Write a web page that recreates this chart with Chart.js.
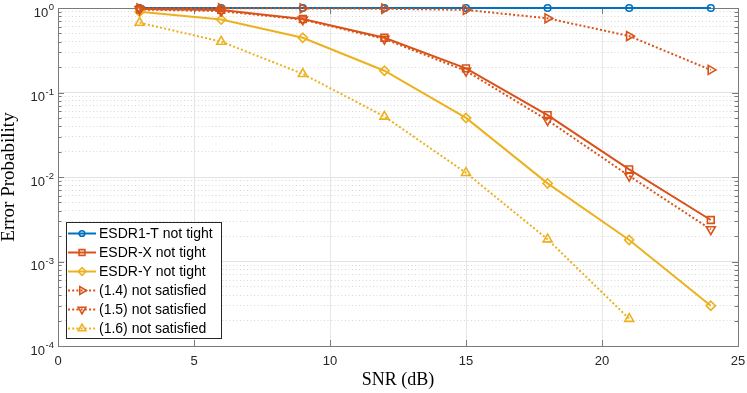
<!DOCTYPE html>
<html>
<head>
<meta charset="utf-8">
<script src="https://cdn.jsdelivr.net/npm/chart.js@4.4.0/dist/chart.umd.min.js"></script>
<style>
html, body { margin: 0; padding: 0; background: #fff; }
#wrap { width: 747px; height: 393px; }
</style>
</head>
<body>
<div id="wrap"><canvas id="errChart" width="747" height="393"></canvas></div>
<script>
// SNR points (dB)
var snr = [3, 6, 9, 12, 15, 18, 21, 24];

// error probabilities
var esdr1T = [1, 1, 1, 1, 1, 1, 1, 1];
var esdrX = [0.97, 0.95, 0.74, 0.445, 0.193, 0.054, 0.0123, 0.0031];
var esdrY = [0.90, 0.73, 0.445, 0.181, 0.050, 0.0084, 0.0018, 0.00030];
var cond14 = [0.99, 0.99, 0.99, 0.98, 0.95, 0.755, 0.466, 0.185];
var cond15 = [0.96, 0.92, 0.73, 0.43, 0.18, 0.047, 0.0103, 0.0024];
var cond16 = [0.67, 0.40, 0.166, 0.052, 0.0112, 0.00183, 0.00021, null];

var seriesNames = ['ESDR1-T not tight', 'ESDR-X not tight', 'ESDR-Y not tight',
    '(1.4) not satisfied', '(1.5) not satisfied', '(1.6) not satisfied'];

// axis ticks
var xTicks = [0, 5, 10, 15, 20, 25];
var yMajorTicks = [1e-4, 1e-3, 1e-2, 1e-1, 1];
var yTickBase = '10';
var yTickExps = ['-4', '-3', '-2', '-1', '0'];

var blue = '#0072BD';
var orange = '#D95319';
var yellow = '#EDB120';

var yGridValues = [];
for (let i = 0; i < yMajorTicks.length - 1; i++) {
    for (let m = 1; m <= 9; m++) {
        yGridValues.push(yMajorTicks[i] * m);
    }
}
yGridValues.push(yMajorTicks[yMajorTicks.length - 1]);

function pts(ys) {
    return snr.map((x, i) => ({ x: x, y: ys[i] }));
}

function makeSet(i, ys, color, style, rot, radius, dotted) {
    return {
        label: seriesNames[i],
        data: pts(ys),
        borderColor: color,
        backgroundColor: color,
        borderWidth: 2,
        borderDash: dotted ? [2, 2.2] : [],
        pointStyle: style,
        pointRotation: rot,
        pointRadius: radius,
        pointHoverRadius: radius,
        pointBorderColor: color,
        pointBackgroundColor: 'rgba(0,0,0,0)',
        pointBorderWidth: 1.6,
        tension: 0,
        clip: false,
        order: 6 - i,
        spanGaps: false
    };
}

var datasets = [
    makeSet(0, esdr1T, blue, 'circle', 0, 3.3, false),
    makeSet(1, esdrX, orange, 'rect', 0, 4.8, false),
    makeSet(2, esdrY, yellow, 'rectRot', 0, 4.6, false),
    makeSet(3, cond14, orange, 'triangle', 90, 5.2, true),
    makeSet(4, cond15, orange, 'triangle', 180, 5.2, true),
    makeSet(5, cond16, yellow, 'triangle', 0, 5.2, true)
];

var axisColor = '#262626';

var boxPlugin = {
    id: 'boxPlugin',
    beforeDatasetsDraw(chart) {
        const ctx = chart.ctx;
        const a = chart.chartArea;
        const xs = chart.scales.x;
        const ys = chart.scales.y;
        ctx.save();
        ctx.strokeStyle = '#7a7a7a';
        ctx.lineWidth = 1;
        ctx.setLineDash([]);
        ctx.beginPath();
        // inner tick marks, x
        xTicks.forEach(v => {
            const px = Math.round(xs.getPixelForValue(v)) + 0.5;
            ctx.moveTo(px, a.bottom);
            ctx.lineTo(px, a.bottom - 6);
            ctx.moveTo(px, a.top);
            ctx.lineTo(px, a.top + 6);
        });
        // inner tick marks, y
        yGridValues.forEach(v => {
            const py = Math.round(ys.getPixelForValue(v)) + 0.5;
            const len = yMajorTicks.includes(v) ? 6 : 3.5;
            ctx.moveTo(a.left, py);
            ctx.lineTo(a.left + len, py);
            ctx.moveTo(a.right, py);
            ctx.lineTo(a.right - len, py);
        });
        ctx.stroke();
        ctx.strokeRect(Math.round(a.left) + 0.5, Math.round(a.top) + 0.5,
            Math.round(a.right - a.left), Math.round(a.bottom - a.top));
        ctx.restore();
    },
    afterDraw(chart) {
        const ctx = chart.ctx;
        const ys = chart.scales.y;
        const a = chart.chartArea;
        ctx.save();
        // y tick labels with superscript exponents
        ctx.fillStyle = axisColor;
        ctx.textBaseline = 'middle';
        ctx.textAlign = 'left';
        yMajorTicks.forEach((v, i) => {
            const py = ys.getPixelForValue(v);
            ctx.font = '9.5px "Liberation Sans", Arial, sans-serif';
            const wExp = ctx.measureText(yTickExps[i]).width;
            ctx.font = '13px "Liberation Sans", Arial, sans-serif';
            const wBase = ctx.measureText(yTickBase).width;
            const right = a.left - 4;
            ctx.fillText(yTickBase, right - wExp - wBase - 0.5, py + 5);
            ctx.font = '9.5px "Liberation Sans", Arial, sans-serif';
            ctx.fillText(yTickExps[i], right - wExp, py - 0.5);
        });

        // legend box
        const x0 = 66, y0 = 222, w = 155, h = 116;
        ctx.fillStyle = '#fff';
        ctx.fillRect(x0, y0, w, h);
        ctx.strokeStyle = axisColor;
        ctx.lineWidth = 1;
        ctx.strokeRect(x0 + 0.5, y0 + 0.5, w, h);
        chart.data.datasets.forEach((ds, i) => {
            const cy = y0 + 11.5 + i * 19;
            ctx.strokeStyle = ds.borderColor;
            ctx.lineWidth = ds.borderWidth;
            ctx.setLineDash(ds.borderDash);
            ctx.beginPath();
            ctx.moveTo(68, cy);
            ctx.lineTo(96, cy);
            ctx.stroke();
            ctx.setLineDash([]);
            ctx.fillStyle = 'rgba(0,0,0,0)';
            ctx.strokeStyle = ds.pointBorderColor;
            ctx.lineWidth = ds.pointBorderWidth;
            Chart.helpers.drawPoint(ctx, {
                pointStyle: ds.pointStyle,
                rotation: ds.pointRotation,
                radius: ds.pointRadius * 0.85,
                borderWidth: ds.pointBorderWidth
            }, 82, cy);
            ctx.fillStyle = '#000';
            ctx.font = '14px "Liberation Sans", Arial, sans-serif';
            ctx.textAlign = 'left';
            ctx.textBaseline = 'middle';
            ctx.fillText(ds.label, 99, cy + 0.5);
        });
        ctx.restore();
    }
};

var ctx1 = document.getElementById('errChart').getContext('2d');
var errChart = new Chart(ctx1, {
    type: 'line',
    data: { datasets: datasets },
    options: {
        responsive: false,
        animation: false,
        devicePixelRatio: 1,
        layout: { padding: { top: 8, right: 9, left: 0, bottom: 0 } },
        plugins: {
            legend: { display: false },
            tooltip: { enabled: false }
        },
        scales: {
            x: {
                type: 'linear',
                min: 0,
                max: 25,
                afterBuildTicks: (axis) => {
                    axis.ticks = xTicks.map(v => ({ value: v }));
                },
                afterFit: (axis) => {
                    axis.height = 47;
                    axis.paddingLeft = 0;
                    axis.paddingRight = 0;
                },
                ticks: {
                    color: axisColor,
                    padding: 8,
                    maxRotation: 0,
                    font: { family: '"Liberation Sans", Arial, sans-serif', size: 13 }
                },
                grid: { color: '#e6e6e6', lineWidth: 1, drawTicks: false },
                border: { display: false },
                title: {
                    display: true,
                    text: 'SNR (dB)',
                    color: '#000',
                    font: { family: '"Liberation Serif", "Times New Roman", serif', size: 18, lineHeight: 1.2 },
                    padding: { top: 0, bottom: 2 }
                }
            },
            y: {
                type: 'logarithmic',
                min: 1e-4,
                max: 1,
                afterBuildTicks: (axis) => {
                    axis.ticks = yGridValues.map(v => ({ value: v, major: yMajorTicks.includes(v) }));
                },
                afterFit: (axis) => {
                    axis.width = 58;
                    axis.paddingTop = 0;
                    axis.paddingBottom = 0;
                },
                ticks: { display: false, autoSkip: false },
                grid: {
                    color: (c) => (c.tick && c.tick.major) ? '#e3e3e3' : '#d8d8d8',
                    lineWidth: 1,
                    drawTicks: false
                },
                border: {
                    display: false,
                    dash: (c) => (c.tick && !c.tick.major) ? [1, 2.5] : []
                },
                title: {
                    display: true,
                    text: 'Error Probability',
                    color: '#000',
                    font: { family: '"Liberation Serif", "Times New Roman", serif', size: 19, lineHeight: 1 },
                    padding: { top: 0, bottom: 0 }
                }
            }
        }
    },
    plugins: [boxPlugin]
});
</script>
</body>
</html>
